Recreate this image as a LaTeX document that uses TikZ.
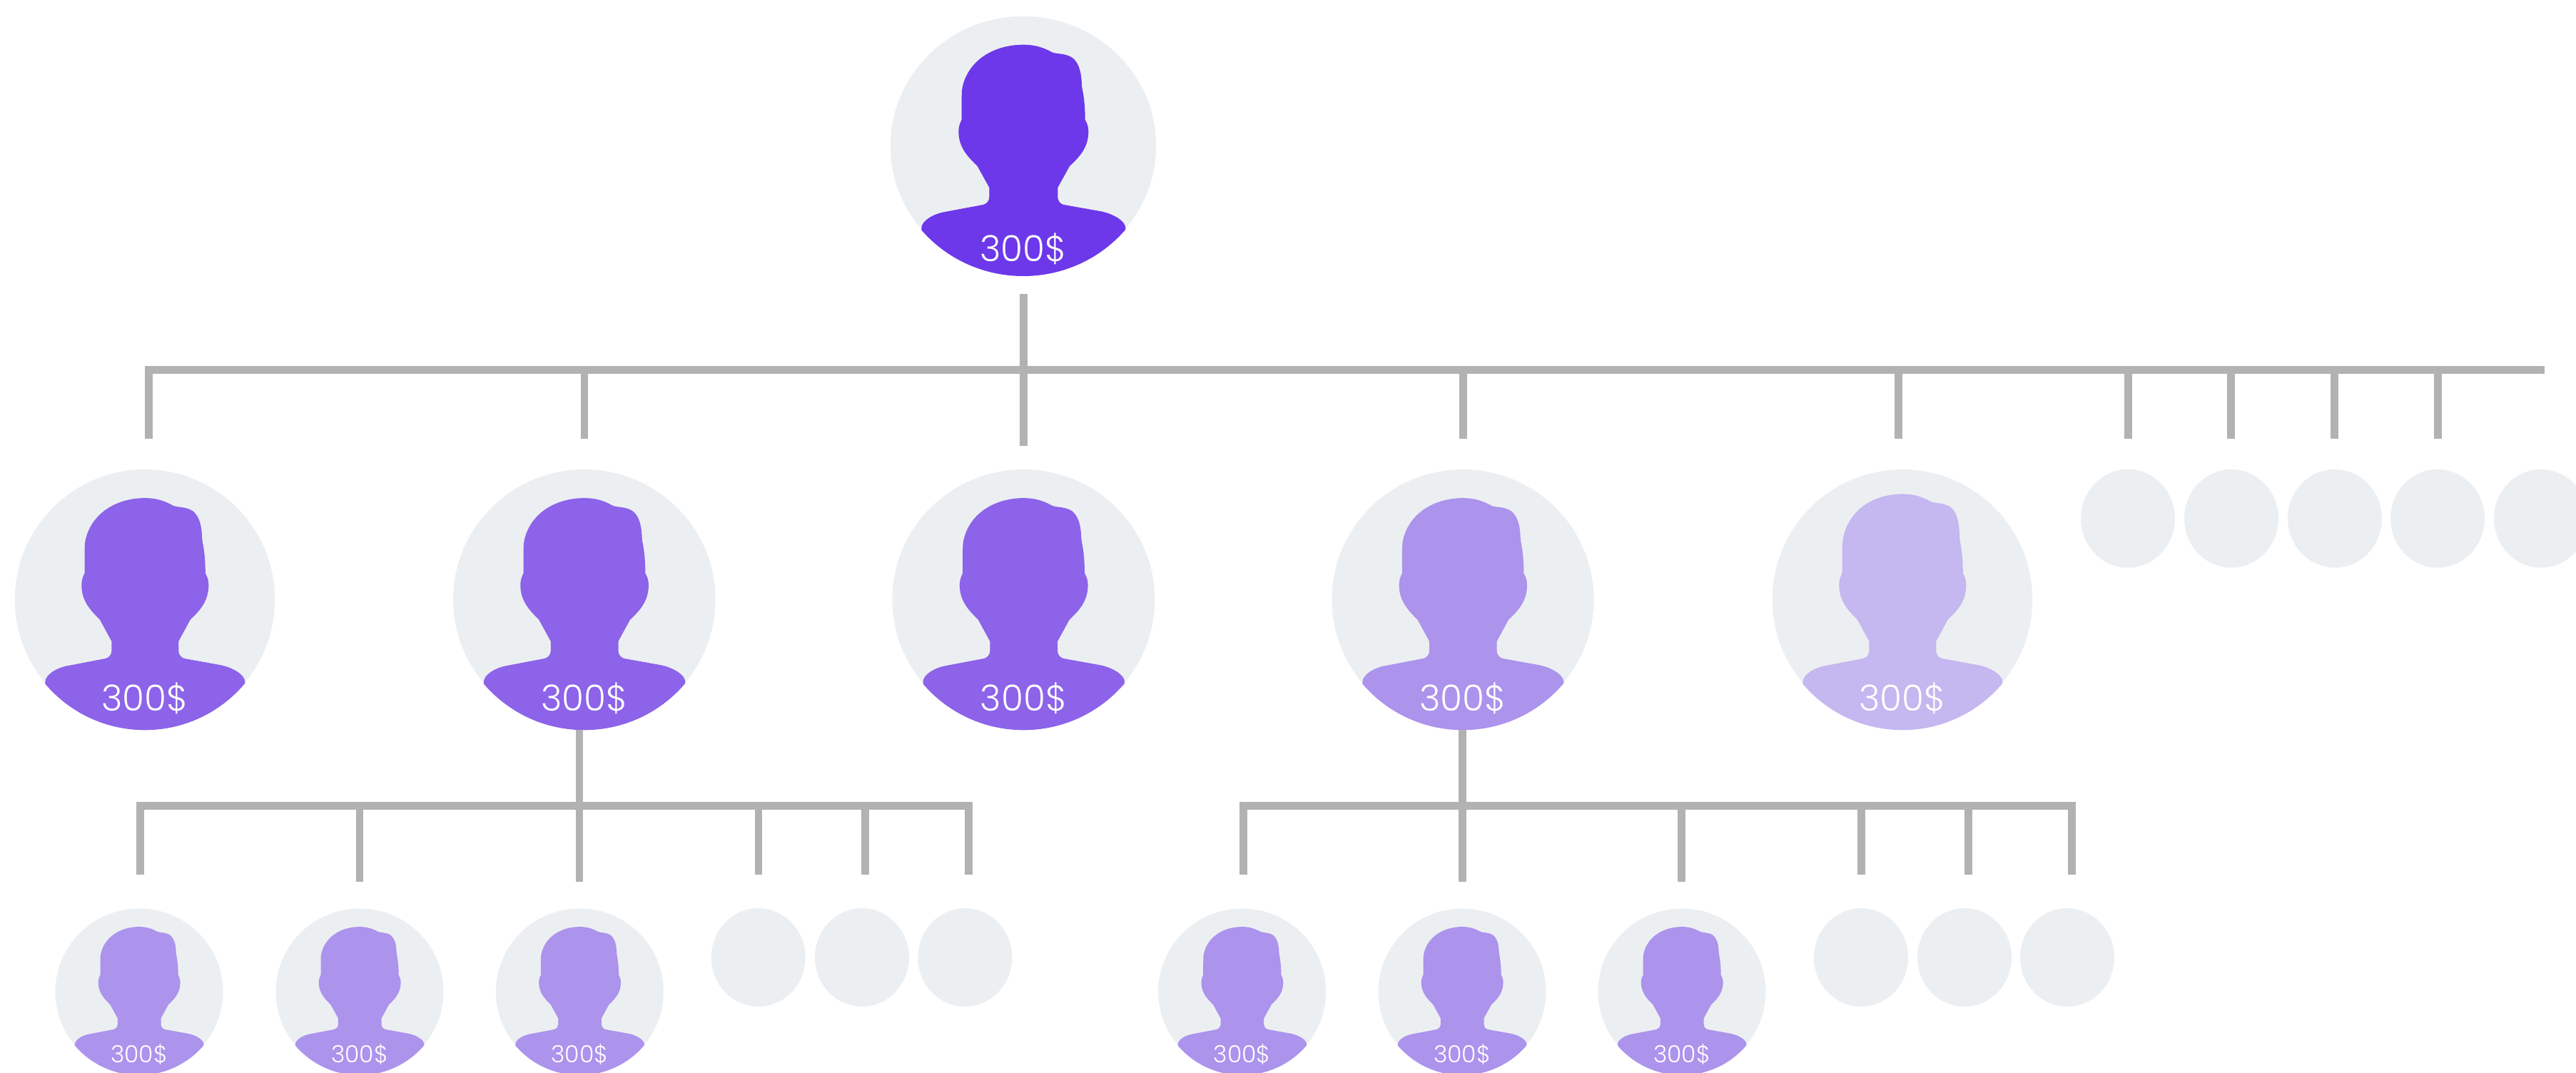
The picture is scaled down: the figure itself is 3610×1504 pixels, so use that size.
\documentclass[tikz,border=0pt]{standalone}
\usepackage{fontspec}
\usetikzlibrary{shapes.geometric}
\newfontfamily\valfont{Poppins Light}
\definecolor{discgray}{HTML}{ECEFF2}
\definecolor{linegray}{HTML}{B2B2B2}
\definecolor{vioA}{HTML}{6C38EA}
\definecolor{vioB}{HTML}{8C63E9}
\definecolor{vioC}{HTML}{AC93EC}
\definecolor{vioD}{HTML}{C5B7EF}
\tikzset{
  disc/.style={ellipse,fill=discgray,draw=none,inner sep=0pt,outer sep=0pt},
  blank/.style={disc,minimum width=132.6*0.5669pt,minimum height=138.4*0.5669pt},
  barline/.style={draw=linegray,line width=11.2*0.5669pt},
  stemline/.style={draw=linegray,line width=11*0.5669pt},
  valtext/.style={text=white,inner sep=0pt,anchor=base},
}
% name, cx, cy, rx, ry, colour, font size (pt), head offset, baseline y
\newcommand{\avatarfig}[9]{%
  \node[disc,minimum width=2*#4*0.5669pt,minimum height=2*#5*0.5669pt] (#1) at (#2,#3) {};
  \begin{scope}[shift={(#2,#3)},xscale={#4/561},yscale={#5/547}]
    \begin{scope}
    \clip (0,0) ellipse [x radius=561,y radius=547];
    \begin{scope}[shift={(-643,-615)}]
    \fill[#6] ({643},{190-#8})
      .. controls ({690},{190-#8}) and ({725},{200-#8}) .. ({765},{222-#8})
      .. controls ({785},{230-#8}) and ({820},{225-#8}) .. ({850},{245-#8})
      .. controls ({875},{265-#8}) and ({885},{300-#8}) .. ({888},{340-#8/2})
      .. controls (889,365) and (890,370) .. (893,385)
      .. controls (898,410) and (903,450) .. (903,505)
      .. controls (912,520) and (917,535) .. (917,555)
      .. controls (917,625) and (875,665) .. (838,700)
      -- (788,790) -- (788,830)
      .. controls (788,845) and (798,858) .. (812,862)
      -- (970,890)
      .. controls (1020,900) and (1073,930) .. (1073,960)
      -- (1073,1300) -- (215,1300) -- (215,960)
      .. controls (215,930) and (265,900) .. (315,892)
      -- (475,862)
      .. controls (490,858) and (500,845) .. (500,830)
      -- (500,790) -- (450,700)
      .. controls (415,665) and (371,625) .. (371,555)
      .. controls (371,535) and (376,520) .. (384,505)
      -- (384,420)
      .. controls (384,390) and (385,370) .. ({392},{350-#8/2})
      .. controls ({425},{245-#8}) and ({530},{190-#8}) .. ({643},{190-#8})
      -- cycle;
    \end{scope}
    \end{scope}
  \end{scope}
  \node[valtext,font=\valfont\fontsize{#7}{#7}\selectfont] (#1v) at (#2,#9) {300\$};
}
\begin{document}
\begin{tikzpicture}[x=0.02cm,y=-0.02cm]
\useasboundingbox (0,0) rectangle (3610,1504);
% top
\avatarfig{a0}{1434}{204.5}{187}{182.5}{vioA}{28.6}{0}{366}
% row 2
\avatarfig{a1}{203}{840.3}{183}{183}{vioB}{28.6}{0}{996}
\avatarfig{a2}{818.8}{840.3}{184.6}{183}{vioB}{28.6}{0}{996}
\avatarfig{a3}{1434.4}{840.3}{184.7}{183}{vioB}{28.6}{0}{996}
\avatarfig{a4}{2050}{840.3}{184.3}{183}{vioC}{28.6}{0}{996}
\avatarfig{a5}{2666}{840.3}{183}{183}{vioD}{28.6}{17}{996}
\foreach \n/\x in {1/2982,2/3127,3/3272,4/3416,5/3561}
  \node[blank] (r\n) at (\x,726.8) {};
% row 3
\avatarfig{b1}{195}{1390}{118}{117}{vioC}{18.8}{0}{1489}
\avatarfig{b2}{504}{1390}{118}{117}{vioC}{18.8}{0}{1489}
\avatarfig{b3}{812.4}{1390}{118}{117}{vioC}{18.8}{0}{1489}
\avatarfig{c1}{1740.7}{1390}{118}{117}{vioC}{18.8}{0}{1489}
\avatarfig{c2}{2049}{1390}{118}{117}{vioC}{18.8}{0}{1489}
\avatarfig{c3}{2357}{1390}{118}{117}{vioC}{18.8}{0}{1489}
\foreach \n/\x in {1/1062.7,2/1208,3/1352.3}
  \node[blank] (p\n) at (\x,1342) {};
\foreach \n/\x in {1/2608,2/2753,3/2897}
  \node[blank] (q\n) at (\x,1342) {};
% connectors level 1
\coordinate (barL) at (203,518.5);
\coordinate (barR) at (3566,518.5);
\coordinate (barT) at (0,513);
\draw[barline] (barL) -- (barR);
\coordinate (s0a) at (1434.5,412);
\coordinate (s0b) at (1434.5,624.5);
\draw[stemline] (s0a) -- (s0b);
\foreach \n/\x in {1/208.5,2/819,3/2050.5,4/2660.7,5/2982,6/3126.7,7/3271.6,8/3416.5}{
  \coordinate (s\n) at (\x,614.6);
  \draw[stemline] (s\n |- barT) -- (s\n);
}
% connectors level 2, left
\coordinate (barLa) at (191,1129.3);
\coordinate (barLb) at (1363,1129.3);
\coordinate (barLt) at (0,1124);
\draw[barline] (barLa) -- (barLb);
\foreach \n/\x/\y in {1/196.2/1225.7,2/504/1236,3/1063/1225.7,4/1212.7/1225.7,5/1357.6/1225.7}{
  \coordinate (u\n) at (\x,\y);
  \draw[stemline] (u\n |- barLt) -- (u\n);
}
\coordinate (u6) at (812,1236);
\draw[stemline] (u6 |- a2.south) -- (u6);
% connectors level 2, right
\coordinate (barRa) at (1737,1129.3);
\coordinate (barRb) at (2908,1129.3);
\draw[barline] (barRa) -- (barRb);
\foreach \n/\x/\y in {1/1742/1225.7,2/2356.8/1236,3/2608/1225.7,4/2758/1225.7,5/2903/1225.7}{
  \coordinate (v\n) at (\x,\y);
  \draw[stemline] (v\n |- barLt) -- (v\n);
}
\coordinate (v6) at (2049.4,1236);
\draw[stemline] (v6 |- a4.south) -- (v6);
\end{tikzpicture}
\end{document}
